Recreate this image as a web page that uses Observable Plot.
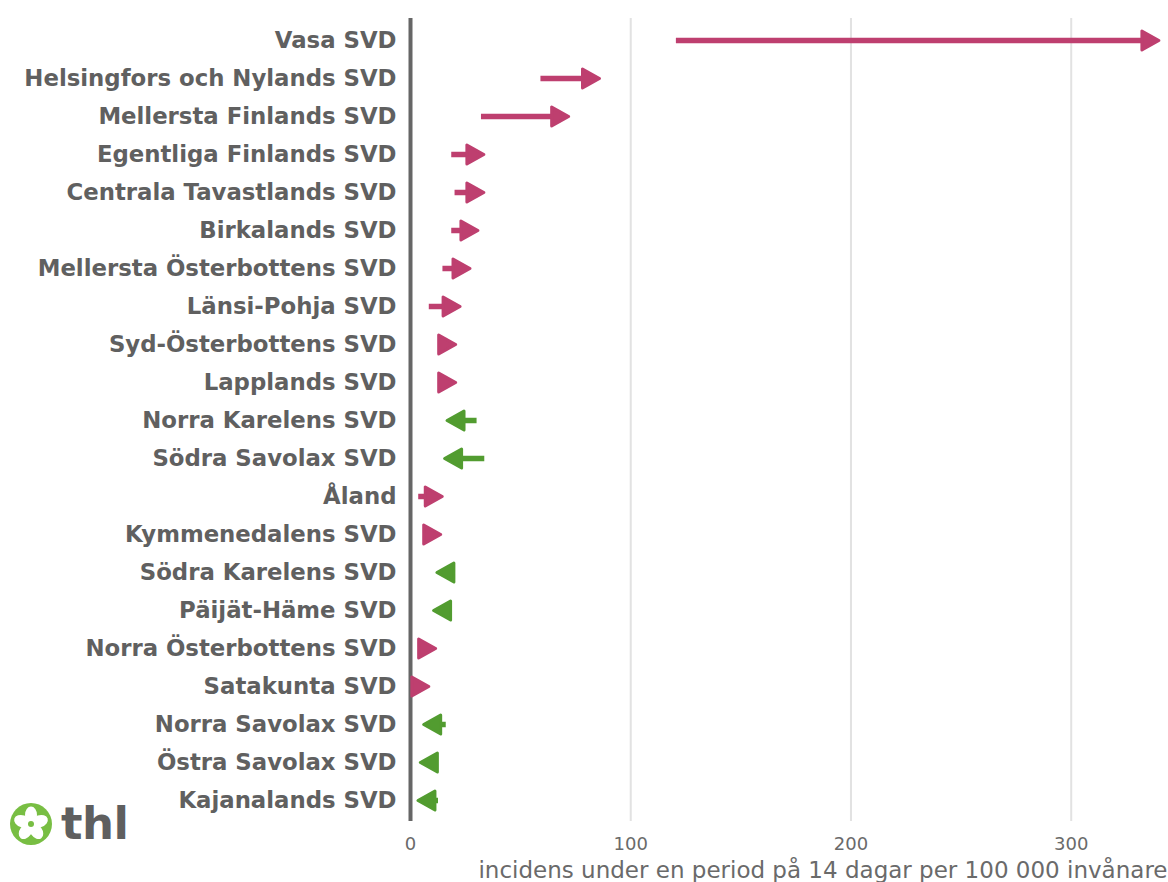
<!DOCTYPE html>
<html>
<head>
<meta charset="utf-8">
<script src="https://cdn.jsdelivr.net/npm/d3@7"></script>
<script src="https://cdn.jsdelivr.net/npm/@observablehq/plot@0.6"></script>
<style>
  html, body { margin: 0; padding: 0; background: #fff; }
  #wrap { position: relative; width: 1168px; height: 882px; }
  #logo { position: absolute; left: 9px; top: 802px; display: flex; align-items: center; }
  #logo span { font-family: "DejaVu Sans"; font-weight: bold; font-size: 45px; color: #5f5f5f; margin-left: 8px; letter-spacing: -0.5px; line-height: 44px; }
</style>
</head>
<body>
<div id="wrap">
  <div id="chart"></div>
  <div id="logo">
    <svg width="44" height="44" viewBox="-22 -22 44 44">
      <circle r="21" fill="#78be43"></circle>
      <g fill="#fff">
        <ellipse cx="0" cy="-9" rx="6" ry="8.5" transform="rotate(0)"></ellipse>
        <ellipse cx="0" cy="-9" rx="6" ry="8.5" transform="rotate(72)"></ellipse>
        <ellipse cx="0" cy="-9" rx="6" ry="8.5" transform="rotate(144)"></ellipse>
        <ellipse cx="0" cy="-9" rx="6" ry="8.5" transform="rotate(216)"></ellipse>
        <ellipse cx="0" cy="-9" rx="6" ry="8.5" transform="rotate(288)"></ellipse>
      </g>
      <circle r="3" fill="#78be43"></circle>
    </svg>
    <span>thl</span>
  </div>
</div>
<script>
const regions = [
  "Vasa SVD", "Helsingfors och Nylands SVD", "Mellersta Finlands SVD", "Egentliga Finlands SVD",
  "Centrala Tavastlands SVD", "Birkalands SVD", "Mellersta Österbottens SVD", "Länsi-Pohja SVD",
  "Syd-Österbottens SVD", "Lapplands SVD", "Norra Karelens SVD", "Södra Savolax SVD", "Åland",
  "Kymmenedalens SVD", "Södra Karelens SVD", "Päijät-Häme SVD", "Norra Österbottens SVD",
  "Satakunta SVD", "Norra Savolax SVD", "Östra Savolax SVD", "Kajanalands SVD"
];
const startValues = [120.5, 59, 32, 18.5, 20, 18.5, 14.5, 8.3, 16, 16, 30, 33.5, 3.5, 9, 18, 16, 7, 3, 16, 11, 12.5];
const endValues   = [340.5, 86.5, 72.5, 34, 34, 31.3, 27.7, 23.2, 21.2, 21.2, 15.9, 14.8, 15.1, 14.4, 11.3, 9.8, 12.1, 9, 5.3, 3.8, 2.7];
const xTicks = [0, 100, 200, 300];
const xLabel = "incidens under en period på 14 dagar per 100 000 invånare";

const upColor = "#be3f6f";
const downColor = "#529c30";

const data = regions.map((r, i) => ({region: r, start: startValues[i], end: endValues[i]}));

// filled arrowhead, tip at the origin, pointing right (+x)
const headSymbol = {
  draw(context) {
    const L = 17, W = 19;
    context.moveTo(-1.5, 0);
    context.lineTo(-1.5 - L, -W / 2);
    context.lineTo(-1.5 - L, W / 2);
    context.closePath();
  }
};

const colorOf = d => d.end >= d.start ? upColor : downColor;
// pull the shaft end back a little so it stays hidden under the head
const shaftEnd = d => d.end - Math.sign(d.end - d.start) * 4;

const chart = Plot.plot({
  width: 1168,
  height: 882,
  marginLeft: 410,
  marginRight: 7,
  marginTop: 18,
  marginBottom: 61,
  style: {fontFamily: "DejaVu Sans", background: "#fff"},
  x: {domain: [0, 341]},
  y: {type: "point", domain: regions, padding: 0.565},
  marks: [
    Plot.gridX(xTicks.filter(t => t > 0), {stroke: "#e2e2e2", strokeOpacity: 1, strokeWidth: 2}),
    Plot.ruleX([0], {stroke: "#666", strokeWidth: 4}),
    Plot.axisX(xTicks, {tickSize: 0, tickPadding: 16, fontSize: 18, fill: "#6a6a6a", label: null}),
    Plot.axisY({tickSize: 0, tickPadding: 14, fontSize: 22.8, fontWeight: "bold", fill: "#606060", label: null}),
    Plot.link(data, {
      x1: "start", x2: shaftEnd, y1: "region", y2: "region",
      stroke: colorOf, strokeWidth: 5.5, strokeLinecap: "butt"
    }),
    Plot.dot(data, {
      x: "end", y: "region", symbol: headSymbol,
      rotate: d => d.end >= d.start ? 0 : 180,
      fill: colorOf, stroke: colorOf, strokeWidth: 3, strokeLinejoin: "round"
    }),
    Plot.text([xLabel], {
      frameAnchor: "bottom-right", text: d => d, textAnchor: "end",
      lineAnchor: "middle", dy: 49, dx: 6, fontSize: 23, fill: "#6a6a6a"
    })
  ]
});
document.getElementById("chart").appendChild(chart);
</script>
</body>
</html>
